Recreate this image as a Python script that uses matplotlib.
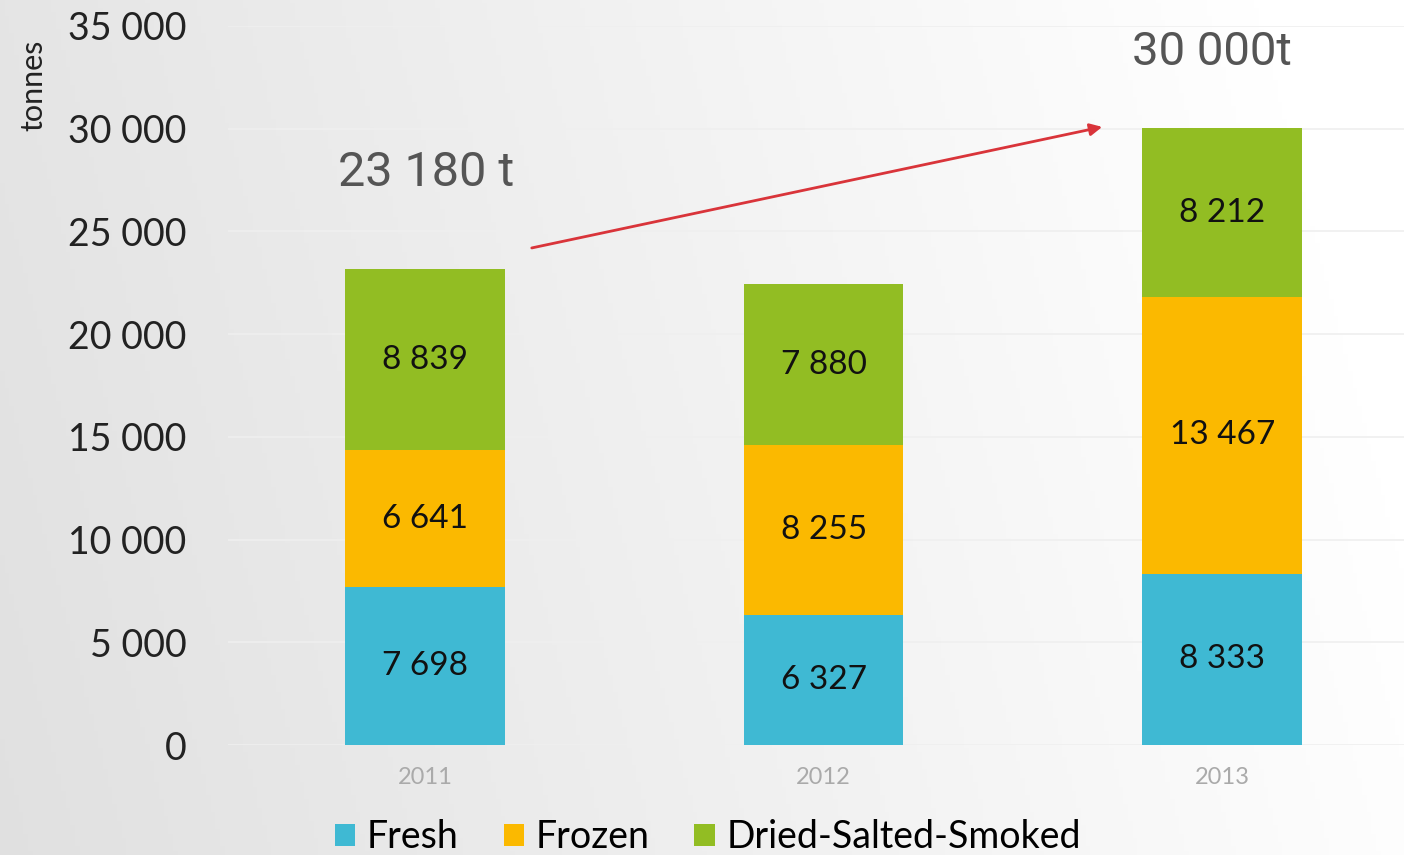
import numpy as np
import matplotlib
matplotlib.use("Agg")
import matplotlib.pyplot as plt
from matplotlib.patches import Patch

years = ["2011", "2012", "2013"]
fresh = [7698, 6327, 8333]
frozen = [6641, 8255, 13467]
dried = [8839, 7880, 8212]
series_names = ["Fresh", "Frozen", "Dried-Salted-Smoked"]
colors = ["#3fb9d3", "#fbb900", "#92bd23"]
yticks = [0, 5000, 10000, 15000, 20000, 25000, 30000, 35000]
ytick_labels = ["0", "5 000", "10 000", "15 000", "20 000", "25 000", "30 000", "35 000"]
total_labels = ["23 180 t", "30 000t"]

def fmt(v):
    return f"{v:,}".replace(",", " ")

FONT = ["Lato", "DejaVu Sans"]

fig = plt.figure(figsize=(14.04, 8.55), dpi=100)

# background gradient
bg = fig.add_axes([0, 0, 1, 1], zorder=-10)
xx, yy = np.meshgrid(np.linspace(0, 1, 300), np.linspace(0, 1, 200))
val = 0.88 + 0.12 * np.clip(0.95 * xx + 0.15 * (1 - yy), 0, 1)
val = np.clip(val, 0, 1)
bg.imshow(np.dstack([val, val, val]), extent=[0, 1, 0, 1], aspect="auto", origin="upper")
bg.axis("off")

ax = fig.add_axes([228 / 1404, (855 - 745) / 855, 1 - 228 / 1404, (745 - 26) / 855])
ax.patch.set_alpha(0)
x = np.arange(len(years))
w = 0.4
b1 = ax.bar(x, fresh, w, color=colors[0], zorder=3)
b2 = ax.bar(x, frozen, w, bottom=fresh, color=colors[1], zorder=3)
bottom3 = np.array(fresh) + np.array(frozen)
b3 = ax.bar(x, dried, w, bottom=bottom3, color=colors[2], zorder=3)

for bars, vals in [(b1, fresh), (b2, frozen), (b3, dried)]:
    ax.bar_label(bars, labels=[fmt(v) for v in vals], label_type="center",
                 fontsize=24, color="#111111", family=FONT)

ax.set_ylim(0, 35000)
ax.set_xlim(-0.494, 2.456)
ax.set_yticks(yticks)
ax.set_yticklabels(ytick_labels, fontsize=27, color="#222222", family=FONT)
ax.set_xticks(x)
ax.set_xticklabels(years, fontsize=17, color="#aaaaaa", family=FONT)
ax.tick_params(axis="y", length=0, pad=30)
ax.tick_params(axis="x", length=0, pad=16)
ax.grid(axis="y", color="#efefef", linewidth=1.2, zorder=0)
for s in ax.spines.values():
    s.set_visible(False)

fig.text(33 / 1404, (855 - 85) / 855, "tonnes", rotation=90, ha="center", va="center",
         fontsize=22, color="#222222", family=FONT)

# totals annotations
ax.text(-0.218, 27215, total_labels[0], fontsize=35, color="#555555", family=["Roboto", "DejaVu Sans"],
        ha="left", va="baseline")
ax.text(1.774, 33106, total_labels[1], fontsize=34, color="#555555", family=["Roboto", "DejaVu Sans"],
        ha="left", va="baseline")
ax.annotate("", xy=(1.699, 30088), xytext=(0.268, 24196),
            arrowprops=dict(arrowstyle="-|>", color="#d9343a", lw=2, mutation_scale=18,
                            shrinkA=0, shrinkB=0), zorder=5)

handles = [Patch(facecolor=c, edgecolor="none") for c in colors]
fig.legend(handles, series_names, loc="lower left", bbox_to_anchor=(301 / 1404, -0.04),
           ncol=3, frameon=False, handlelength=0.55, handleheight=0.55,
           handletextpad=0.3, columnspacing=1.2,
           prop=dict(family=FONT, size=27))

fig.savefig("out.png", dpi=100)
